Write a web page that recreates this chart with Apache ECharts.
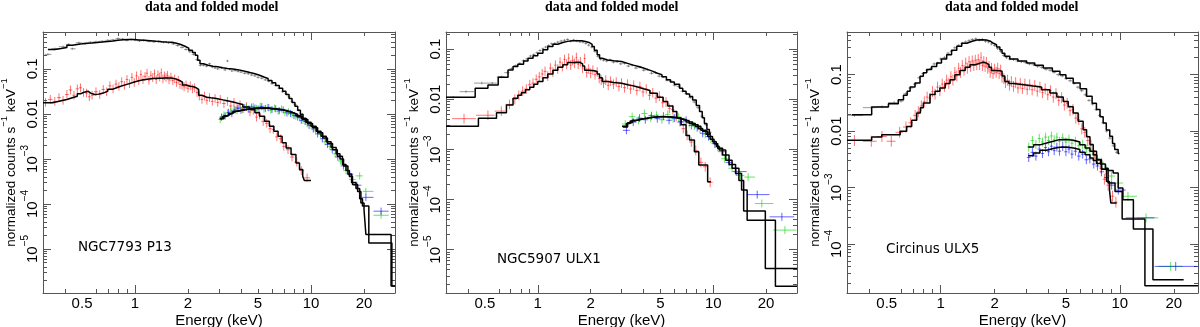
<!DOCTYPE html>
<html>
<head>
<meta charset="utf-8">
<script src="https://cdn.jsdelivr.net/npm/echarts@6/dist/echarts.min.js"></script>
<style>
  html, body { margin: 0; padding: 0; background: #fff; }
  #chart { width: 1200px; height: 327px; }
</style>
</head>
<body>
<div id="chart"></div>
<script>
// XSPEC-style "data and folded model" panels, three sources side by side.
// Every array is [energy keV, normalized counts s^-1 keV^-1].

// ---- NGC7793 P13 ----
const p13PnData = [[0.32,0.21],[0.35,0.28],[0.39,0.31],[0.42,0.35],[0.44,0.28],[0.48,0.38],[0.52,0.36],[0.56,0.39],[0.6,0.40],[0.65,0.41],[0.7,0.43],[0.75,0.44],[0.8,0.47],[0.85,0.46],[0.9,0.43],[0.95,0.45],[1.0,0.44],[1.06,0.42],[1.12,0.43],[1.2,0.41],[1.28,0.40],[1.36,0.41],[1.45,0.39],[1.55,0.38],[1.65,0.36],[1.75,0.33],[1.85,0.30],[1.95,0.27],[2.05,0.24],[2.15,0.21],[2.25,0.16],[2.35,0.12],[2.45,0.12],[2.55,0.115],[2.65,0.13],[2.75,0.11],[2.85,0.105],[2.95,0.10],[3.1,0.105],[3.25,0.095],[3.35,0.15],[3.45,0.098],[3.55,0.09],[3.7,0.092],[3.85,0.088],[4.0,0.085],[4.2,0.080],[4.4,0.078],[4.6,0.073],[4.8,0.07],[5.0,0.065],[5.25,0.062],[5.5,0.057],[5.75,0.053],[6.0,0.047],[6.3,0.043],[6.6,0.037],[6.9,0.031],[7.2,0.028],[7.5,0.024],[7.8,0.019],[8.1,0.016],[8.5,0.012],[8.9,0.0095],[9.3,0.0078]];
const p13MosData = [[0.31,0.018],[0.33,0.021],[0.35,0.019],[0.37,0.023],[0.39,0.020],[0.41,0.027],[0.43,0.034],[0.45,0.026],[0.47,0.036],[0.49,0.038],[0.51,0.030],[0.53,0.029],[0.55,0.024],[0.57,0.026],[0.6,0.031],[0.63,0.027],[0.66,0.035],[0.69,0.031],[0.72,0.042],[0.75,0.036],[0.78,0.046],[0.81,0.041],[0.84,0.052],[0.87,0.043],[0.9,0.058],[0.93,0.047],[0.96,0.065],[0.99,0.05],[1.02,0.07],[1.05,0.055],[1.08,0.075],[1.11,0.058],[1.14,0.068],[1.17,0.08],[1.2,0.056],[1.23,0.072],[1.26,0.064],[1.29,0.078],[1.32,0.058],[1.35,0.074],[1.38,0.066],[1.41,0.082],[1.44,0.06],[1.47,0.07],[1.5,0.065],[1.53,0.072],[1.56,0.057],[1.6,0.066],[1.64,0.055],[1.68,0.06],[1.72,0.05],[1.76,0.056],[1.8,0.045],[1.85,0.043],[1.9,0.04],[1.95,0.044],[2.0,0.037],[2.06,0.042],[2.12,0.036],[2.18,0.038],[2.25,0.03],[2.32,0.025],[2.4,0.021],[2.48,0.025],[2.56,0.02],[2.65,0.023],[2.75,0.019],[2.85,0.022],[2.95,0.018],[3.05,0.021],[3.2,0.017],[3.35,0.019],[3.5,0.015],[3.65,0.018],[3.8,0.014],[3.95,0.016],[4.1,0.013],[4.3,0.0145],[4.5,0.011],[4.7,0.012],[4.9,0.0085],[5.1,0.0095],[5.35,0.0068],[5.6,0.0062],[5.85,0.0047],[6.1,0.0045],[6.4,0.0031],[6.7,0.0028],[7.0,0.0019],[7.4,0.0016],[7.8,0.0011],[8.3,0.00085],[8.8,0.00055],[9.5,0.00038]];
const p13FpmaData = [[3.05,0.0075],[3.2,0.0095],[3.35,0.0105],[3.5,0.0115],[3.65,0.0128],[3.8,0.0118],[3.95,0.0138],[4.1,0.0125],[4.3,0.0142],[4.5,0.013],[4.7,0.0145],[4.9,0.0132],[5.15,0.0148],[5.4,0.0128],[5.65,0.014],[5.9,0.0122],[6.2,0.0135],[6.5,0.0115],[6.8,0.0128],[7.1,0.0108],[7.45,0.0112],[7.8,0.0098],[8.2,0.0088],[8.6,0.0082],[9.0,0.0072],[9.5,0.006],[10.0,0.0056],[10.6,0.0042],[11.3,0.0035],[12.0,0.0024],[12.8,0.0019],[13.7,0.0013],[14.7,0.0009],[15.8,0.00055],[17.0,0.00035],[18.9,0.00042],[20.5,0.00019],[25,0.000056]];
const p13FpmbData = [[3.1,0.0085],[3.25,0.009],[3.4,0.0108],[3.55,0.0102],[3.7,0.0122],[3.85,0.0132],[4.0,0.012],[4.2,0.0138],[4.4,0.0128],[4.6,0.0142],[4.8,0.0135],[5.0,0.0128],[5.25,0.0145],[5.5,0.0132],[5.75,0.0138],[6.0,0.0125],[6.3,0.013],[6.6,0.0118],[6.95,0.0122],[7.3,0.0105],[7.65,0.0102],[8.0,0.0092],[8.4,0.0085],[8.8,0.0072],[9.25,0.0068],[9.75,0.0055],[10.3,0.0046],[10.9,0.0036],[11.6,0.0028],[12.4,0.0021],[13.2,0.0016],[14.2,0.0011],[15.3,0.0007],[16.6,0.00046],[18.2,0.00026],[20.5,0.00014],[25,0.000069]];
// folded models: histogram bins, last entry is the upper edge of the last bin
const p13PnModel = [[0.32,0.27],[0.35,0.285],[0.38,0.30],[0.41,0.336],[0.44,0.35],[0.47,0.36],[0.5,0.37],[0.53,0.378],[0.57,0.386],[0.61,0.394],[0.65,0.405],[0.7,0.418],[0.75,0.432],[0.8,0.443],[0.86,0.449],[0.92,0.447],[0.98,0.44],[1.05,0.432],[1.13,0.423],[1.22,0.412],[1.32,0.403],[1.42,0.396],[1.52,0.39],[1.62,0.372],[1.72,0.348],[1.82,0.318],[1.92,0.29],[2.02,0.258],[2.12,0.232],[2.2,0.2],[2.27,0.155],[2.34,0.13],[2.45,0.12],[2.6,0.115],[2.77,0.111],[2.95,0.106],[3.15,0.102],[3.35,0.099],[3.6,0.095],[3.9,0.089],[4.2,0.083],[4.5,0.078],[4.8,0.072],[5.1,0.066],[5.4,0.061],[5.7,0.055],[6.0,0.049],[6.3,0.043],[6.6,0.037],[6.9,0.032],[7.2,0.027],[7.5,0.022],[7.8,0.018],[8.1,0.0148],[8.4,0.0121],[8.7,0.0098],[9.0,0.0079],[9.3,0.0066],[9.6,0.0058]];
const p13MosModel = [[0.3,0.0176],[0.34,0.019],[0.37,0.0208],[0.41,0.0228],[0.44,0.0247],[0.47,0.028],[0.49,0.0308],[0.52,0.0319],[0.54,0.029],[0.56,0.0269],[0.59,0.0275],[0.62,0.029],[0.66,0.032],[0.7,0.0355],[0.75,0.039],[0.8,0.043],[0.86,0.047],[0.93,0.052],[1.0,0.056],[1.08,0.059],[1.17,0.061],[1.27,0.062],[1.38,0.063],[1.5,0.063],[1.6,0.06],[1.7,0.056],[1.78,0.051],[1.86,0.044],[1.95,0.041],[2.05,0.04],[2.15,0.038],[2.23,0.035],[2.3,0.026],[2.4,0.0235],[2.55,0.0228],[2.7,0.0221],[2.9,0.0205],[3.16,0.0191],[3.45,0.0176],[3.76,0.0161],[4.1,0.0143],[4.48,0.0125],[4.8,0.0106],[5.1,0.0089],[5.45,0.0069],[5.8,0.0053],[6.15,0.0041],[6.5,0.0032],[6.85,0.0023],[7.22,0.00175],[7.7,0.00125],[8.21,0.00081],[8.6,0.00058],[8.97,0.00041],[9.16,0.00033],[10.0,0.00033]];
const p13FpmaModel = [[3.03,0.0079],[3.15,0.0088],[3.3,0.0097],[3.45,0.0106],[3.6,0.0115],[3.8,0.0122],[4.1,0.0129],[4.45,0.0134],[4.88,0.0136],[5.3,0.0134],[5.81,0.0129],[6.3,0.0123],[6.91,0.0115],[7.4,0.0107],[7.87,0.0097],[8.4,0.0087],[8.97,0.0075],[9.6,0.0061],[10.2,0.0049],[10.9,0.0038],[11.66,0.0029],[12.4,0.0022],[13.25,0.0016],[14.1,0.00115],[15.08,0.00075],[15.8,0.00055],[16.5,0.00041],[17.2,0.00027],[18.4,0.00019],[19.2,0.000105],[20.0,0.000075],[20.5,0.000021],[28.5,0.0000015],[30,0.0000015]];
const p13FpmbModel = [[3.03,0.0078],[3.2,0.0091],[3.4,0.0102],[3.6,0.0114],[3.85,0.0123],[4.2,0.013],[4.6,0.0135],[5.0,0.0136],[5.5,0.0132],[6.0,0.0127],[6.6,0.0119],[7.2,0.011],[7.7,0.0101],[8.2,0.0091],[8.8,0.0079],[9.4,0.0065],[10.0,0.0053],[10.7,0.0041],[11.4,0.0032],[12.2,0.0024],[13.0,0.0018],[13.9,0.0013],[14.6,0.001],[15.3,0.0007],[16.2,0.00046],[17.0,0.0003],[18.0,0.00022],[18.9,0.00013],[19.6,0.00009],[21.3,0.0000136],[28.8,0.0000015],[30,0.0000015]];

// ---- NGC5907 ULX1 ----
const ulx1PnData = [[0.33,0.011],[0.39,0.0142],[0.48,0.021],[0.55,0.021],[0.62,0.028],[0.67,0.034],[0.71,0.041],[0.75,0.047],[0.79,0.052],[0.83,0.059],[0.87,0.064],[0.91,0.073],[0.95,0.078],[0.99,0.085],[1.03,0.094],[1.07,0.102],[1.11,0.11],[1.15,0.118],[1.2,0.128],[1.25,0.13],[1.3,0.138],[1.36,0.145],[1.42,0.15],[1.48,0.156],[1.54,0.145],[1.6,0.152],[1.67,0.146],[1.74,0.14],[1.81,0.138],[1.88,0.13],[1.95,0.12],[2.03,0.11],[2.12,0.09],[2.2,0.072],[2.28,0.063],[2.37,0.06],[2.47,0.058],[2.58,0.061],[2.7,0.055],[2.83,0.056],[2.97,0.051],[3.12,0.052],[3.28,0.046],[3.45,0.048],[3.63,0.042],[3.82,0.044],[4.02,0.038],[4.23,0.039],[4.45,0.033],[4.68,0.034],[4.92,0.029],[5.18,0.028],[5.45,0.024],[5.73,0.023],[6.03,0.019],[6.35,0.018],[6.68,0.0145],[7.03,0.013],[7.4,0.0108],[7.8,0.0088],[8.2,0.0068],[8.65,0.0046],[9.1,0.0031],[9.55,0.0022]];
const ulx1MosData = [[0.38,0.0041],[0.52,0.0048],[0.62,0.0058],[0.69,0.0079],[0.74,0.01],[0.78,0.012],[0.82,0.0145],[0.86,0.016],[0.9,0.0195],[0.94,0.021],[0.98,0.025],[1.02,0.028],[1.06,0.032],[1.1,0.036],[1.14,0.029],[1.18,0.042],[1.22,0.035],[1.26,0.048],[1.3,0.04],[1.34,0.055],[1.38,0.045],[1.42,0.062],[1.46,0.05],[1.5,0.066],[1.54,0.048],[1.58,0.06],[1.62,0.052],[1.66,0.068],[1.7,0.05],[1.75,0.056],[1.8,0.042],[1.85,0.065],[1.9,0.034],[1.95,0.04],[2.0,0.033],[2.06,0.038],[2.12,0.031],[2.18,0.035],[2.24,0.026],[2.3,0.024],[2.37,0.021],[2.44,0.024],[2.52,0.019],[2.6,0.023],[2.7,0.02],[2.8,0.022],[2.9,0.018],[3.0,0.021],[3.12,0.017],[3.25,0.02],[3.38,0.016],[3.52,0.019],[3.67,0.015],[3.82,0.018],[3.98,0.014],[4.15,0.016],[4.33,0.012],[4.52,0.0135],[4.72,0.0105],[4.93,0.0115],[5.15,0.0085],[5.38,0.0088],[5.62,0.0066],[5.88,0.0062],[6.15,0.0045],[6.45,0.0036],[6.75,0.0026],[7.1,0.0019],[7.5,0.0014],[7.95,0.00095],[8.5,0.00055],[9.0,0.00045],[9.6,0.00022]];
const ulx1FpmaData = [[3.15,0.0032],[3.45,0.0045],[3.75,0.0038],[4.05,0.0052],[4.4,0.0042],[4.75,0.0048],[5.1,0.0039],[5.5,0.005],[5.9,0.0041],[6.35,0.0044],[6.8,0.0036],[7.3,0.0033],[7.8,0.0029],[8.4,0.0025],[9.0,0.002],[9.7,0.0016],[10.6,0.0011],[11.6,0.00065],[12.8,0.00042],[14.3,0.0003],[15.8,0.00028],[18.9,0.000083],[25.6,0.0000245]];
const ulx1FpmbData = [[3.2,0.0024],[3.5,0.0035],[3.8,0.0042],[4.1,0.0039],[4.45,0.0047],[4.8,0.0041],[5.2,0.0046],[5.6,0.0038],[6.0,0.0042],[6.5,0.0035],[7.0,0.0038],[7.5,0.003],[8.1,0.0027],[8.7,0.0021],[9.4,0.0018],[10.2,0.0013],[11.2,0.0009],[12.3,0.00055],[13.5,0.00036],[17.8,0.000125],[24.6,0.000045]];
const ulx1PnModel = [[0.3,0.011],[0.44,0.0166],[0.52,0.0193],[0.595,0.0275],[0.677,0.0385],[0.723,0.045],[0.77,0.05],[0.83,0.058],[0.88,0.066],[0.94,0.074],[1.0,0.083],[1.07,0.097],[1.14,0.113],[1.22,0.125],[1.3,0.136],[1.39,0.143],[1.48,0.147],[1.58,0.148],[1.68,0.147],[1.78,0.142],[1.87,0.136],[1.96,0.125],[2.04,0.113],[2.1,0.095],[2.18,0.077],[2.25,0.066],[2.33,0.061],[2.5,0.059],[2.71,0.0567],[3.0,0.052],[3.25,0.048],[3.5,0.045],[3.75,0.042],[4.0,0.039],[4.25,0.036],[4.54,0.0331],[4.8,0.031],[5.1,0.028],[5.41,0.0244],[5.7,0.022],[6.0,0.02],[6.43,0.0166],[6.7,0.0145],[7.0,0.0128],[7.33,0.0113],[7.63,0.0097],[8.0,0.0075],[8.35,0.0057],[8.65,0.0043],[8.9,0.0033],[9.2,0.0025],[9.5,0.0021],[9.7,0.0021]];
const ulx1MosModel = [[0.3,0.0029],[0.459,0.0042],[0.582,0.0054],[0.663,0.0077],[0.723,0.0105],[0.77,0.012],[0.806,0.0135],[0.85,0.0155],[0.9,0.0174],[0.95,0.02],[1.0,0.0226],[1.07,0.027],[1.14,0.032],[1.22,0.038],[1.3,0.0436],[1.39,0.049],[1.48,0.054],[1.58,0.055],[1.68,0.054],[1.75,0.051],[1.8,0.046],[1.85,0.038],[1.95,0.037],[2.09,0.0357],[2.18,0.032],[2.25,0.027],[2.33,0.0226],[2.5,0.0215],[2.71,0.0209],[3.0,0.0195],[3.25,0.0185],[3.5,0.0174],[3.75,0.0162],[4.0,0.015],[4.36,0.0132],[4.8,0.011],[5.18,0.009],[5.5,0.0073],[5.89,0.0057],[6.2,0.0043],[6.56,0.0031],[7.0,0.0019],[7.32,0.00153],[7.81,0.0009],[8.27,0.00049],[9.29,0.000225],[9.69,0.000225]];
const ulx1FpmaModel = [[3.02,0.0029],[3.2,0.0033],[3.36,0.0037],[3.6,0.004],[3.83,0.0042],[4.2,0.0044],[4.54,0.0045],[5.0,0.0045],[5.41,0.0044],[5.9,0.0042],[6.43,0.0039],[7.0,0.0035],[7.63,0.0031],[8.2,0.0026],[8.7,0.0023],[9.3,0.0018],[9.9,0.00142],[10.4,0.00115],[10.8,0.00097],[11.78,0.00061],[12.8,0.00042],[14.0,0.00024],[14.9,0.000059],[19.8,0.0000042],[30,0.0000042]];
const ulx1FpmbModel = [[3.05,0.0028],[3.25,0.0034],[3.45,0.0038],[3.7,0.0041],[4.0,0.0043],[4.4,0.0045],[4.8,0.0045],[5.2,0.0045],[5.7,0.0043],[6.2,0.004],[6.7,0.0037],[7.3,0.0033],[7.9,0.0029],[8.5,0.0024],[9.1,0.002],[9.6,0.0016],[10.1,0.0013],[10.6,0.00105],[11.3,0.00077],[12.3,0.0005],[13.4,0.00033],[14.5,0.000155],[15.6,0.0000386],[22.6,0.00000185],[30,0.00000185]];

// ---- Circinus ULX5 ----
const ulx5PnData = [[0.33,0.019],[0.41,0.026],[0.47,0.027],[0.55,0.032],[0.6,0.034],[0.64,0.046],[0.68,0.058],[0.72,0.068],[0.76,0.088],[0.8,0.105],[0.84,0.12],[0.88,0.128],[0.92,0.155],[0.96,0.16],[1.0,0.19],[1.05,0.2],[1.1,0.24],[1.15,0.26],[1.2,0.3],[1.26,0.33],[1.32,0.36],[1.38,0.38],[1.44,0.4],[1.5,0.42],[1.57,0.43],[1.64,0.41],[1.71,0.42],[1.78,0.39],[1.85,0.38],[1.92,0.35],[2.0,0.33],[2.08,0.29],[2.16,0.26],[2.24,0.22],[2.33,0.2],[2.43,0.19],[2.55,0.185],[2.68,0.175],[2.82,0.17],[2.97,0.165],[3.13,0.155],[3.3,0.15],[3.48,0.14],[3.67,0.135],[3.87,0.125],[4.08,0.12],[4.3,0.11],[4.53,0.1],[4.77,0.095],[5.02,0.085],[5.28,0.078],[5.55,0.07],[5.83,0.06],[6.12,0.052],[6.42,0.044],[6.73,0.035],[7.05,0.03],[7.38,0.024],[7.72,0.019],[8.07,0.014],[8.44,0.01],[8.8,0.0075],[9.2,0.0055],[9.6,0.0042]];
const ulx5MosData = [[0.33,0.0068],[0.41,0.0066],[0.47,0.008],[0.53,0.0066],[0.59,0.0095],[0.64,0.0118],[0.68,0.014],[0.72,0.019],[0.75,0.022],[0.78,0.028],[0.81,0.033],[0.84,0.04],[0.87,0.038],[0.9,0.05],[0.93,0.045],[0.96,0.06],[0.99,0.052],[1.02,0.068],[1.05,0.062],[1.08,0.08],[1.11,0.07],[1.14,0.092],[1.17,0.08],[1.2,0.11],[1.23,0.095],[1.26,0.13],[1.29,0.11],[1.32,0.145],[1.35,0.12],[1.38,0.16],[1.41,0.13],[1.44,0.17],[1.47,0.14],[1.5,0.175],[1.53,0.145],[1.56,0.18],[1.59,0.15],[1.62,0.185],[1.65,0.15],[1.68,0.2],[1.71,0.145],[1.74,0.17],[1.77,0.14],[1.8,0.165],[1.83,0.13],[1.86,0.14],[1.89,0.11],[1.92,0.13],[1.96,0.105],[2.0,0.125],[2.04,0.11],[2.08,0.13],[2.12,0.105],[2.16,0.12],[2.2,0.09],[2.25,0.085],[2.3,0.072],[2.36,0.08],[2.42,0.065],[2.48,0.075],[2.55,0.062],[2.62,0.072],[2.7,0.058],[2.78,0.07],[2.86,0.057],[2.95,0.068],[3.04,0.055],[3.14,0.066],[3.24,0.054],[3.35,0.064],[3.46,0.051],[3.58,0.06],[3.7,0.048],[3.83,0.056],[3.96,0.044],[4.1,0.052],[4.25,0.04],[4.4,0.046],[4.56,0.035],[4.73,0.039],[4.9,0.029],[5.08,0.031],[5.27,0.023],[5.47,0.024],[5.68,0.017],[5.9,0.016],[6.13,0.011],[6.37,0.0095],[6.62,0.0068],[6.9,0.0056],[7.2,0.0037],[7.5,0.003],[7.85,0.0022],[8.2,0.0014],[8.6,0.0011],[9.1,0.0007],[9.5,0.00055]];
const ulx5FpmaData = [[3.1,0.0052],[3.25,0.0068],[3.4,0.0058],[3.55,0.0074],[3.7,0.0064],[3.85,0.0078],[4.0,0.0068],[4.15,0.0082],[4.3,0.007],[4.45,0.0078],[4.6,0.0066],[4.8,0.0076],[5.0,0.0064],[5.2,0.0072],[5.4,0.0061],[5.65,0.0066],[5.9,0.0055],[6.2,0.0058],[6.5,0.0048],[6.8,0.0046],[7.15,0.0038],[7.5,0.0032],[7.9,0.0028],[8.4,0.0021],[9.0,0.0016],[9.8,0.0012],[11.1,0.0007],[14.0,0.00029],[19.2,0.00004]];
const ulx5FpmbData = [[3.1,0.0034],[3.25,0.0042],[3.4,0.0036],[3.55,0.0048],[3.7,0.004],[3.85,0.0051],[4.0,0.0043],[4.15,0.0054],[4.3,0.0045],[4.45,0.0052],[4.6,0.0044],[4.8,0.0053],[5.0,0.0043],[5.2,0.0048],[5.4,0.0039],[5.65,0.0044],[5.9,0.0036],[6.2,0.0039],[6.5,0.0031],[6.8,0.0032],[7.15,0.0026],[7.5,0.0024],[7.9,0.0019],[8.4,0.0015],[9.0,0.0011],[9.8,0.0009],[11.9,0.00029],[20.5,0.00004]];
const ulx5PnModel = [[0.319,0.0195],[0.412,0.0267],[0.511,0.0306],[0.58,0.036],[0.62,0.043],[0.65,0.0507],[0.675,0.0604],[0.719,0.0711],[0.767,0.0934],[0.8,0.108],[0.836,0.123],[0.89,0.14],[0.95,0.161],[1.01,0.19],[1.08,0.226],[1.15,0.27],[1.23,0.318],[1.31,0.36],[1.4,0.39],[1.5,0.41],[1.59,0.417],[1.7,0.41],[1.8,0.39],[1.9,0.36],[1.97,0.34],[2.05,0.31],[2.14,0.277],[2.2,0.24],[2.28,0.211],[2.43,0.19],[2.7,0.175],[3.02,0.161],[3.35,0.147],[3.74,0.131],[4.2,0.115],[4.63,0.1],[5.0,0.086],[5.49,0.071],[6.0,0.056],[6.52,0.0413],[7.0,0.031],[7.4,0.024],[7.75,0.018],[8.07,0.0139],[8.4,0.0105],[8.78,0.0081],[9.1,0.006],[9.36,0.0047],[9.78,0.004],[9.95,0.004]];
const ulx5MosModel = [[0.3,0.00686],[0.412,0.00785],[0.469,0.00865],[0.594,0.0099],[0.646,0.0121],[0.689,0.0155],[0.735,0.0209],[0.77,0.026],[0.8,0.0315],[0.872,0.0443],[0.93,0.051],[0.99,0.058],[1.06,0.07],[1.127,0.0815],[1.2,0.1],[1.28,0.119],[1.37,0.135],[1.457,0.15],[1.56,0.16],[1.66,0.166],[1.73,0.16],[1.8,0.15],[1.86,0.135],[1.92,0.119],[2.03,0.117],[2.14,0.115],[2.2,0.095],[2.28,0.076],[2.4,0.07],[2.54,0.0665],[2.9,0.063],[3.28,0.0604],[3.65,0.054],[4.07,0.0473],[4.45,0.04],[4.83,0.0336],[5.15,0.027],[5.49,0.0209],[5.85,0.015],[6.24,0.0106],[6.52,0.0079],[6.81,0.0058],[7.1,0.0044],[7.41,0.0031],[7.9,0.0021],[8.43,0.00128],[8.75,0.00091],[8.91,0.00053],[9.6,0.00053]];
const ulx5FpmaModel = [[3.08,0.00522],[3.3,0.0057],[3.58,0.00615],[3.9,0.0066],[4.25,0.00705],[4.6,0.0071],[5.04,0.0069],[5.5,0.0064],[5.98,0.00575],[6.4,0.005],[6.81,0.00438],[7.1,0.0038],[7.41,0.00312],[7.8,0.0026],[8.3,0.0022],[8.6,0.002],[9.18,0.00181],[9.79,0.00098],[10.4,0.000608],[11.9,0.000184],[15.3,0.0000233],[22.7,0.0000233]];
const ulx5FpmbModel = [[3.08,0.00367],[3.3,0.0041],[3.58,0.00456],[3.9,0.0049],[4.25,0.00515],[4.6,0.0052],[5.04,0.005],[5.5,0.0047],[5.98,0.0042],[6.4,0.0038],[6.81,0.00334],[7.1,0.003],[7.41,0.00265],[7.9,0.0021],[8.6,0.0012],[9.4,0.00085],[10.3,0.000277],[13.8,0.0000182],[27.3,0.0000182]];

const energyTickLabels = [0.5, 1, 2, 5, 10, 20];
const energyMinorTicks = [0.3, 0.4, 0.6, 0.7, 0.8, 0.9, 2, 3, 4, 5, 6, 7, 8, 9, 20, 30];
const panelTitle = "data and folded model";
const sourceNames = ["NGC7793 P13", "NGC5907 ULX1", "Circinus ULX5"];

// relative y error drawn on each instrument's crosses
const ERR = { pn: 0.06, mos: 0.25, fpma: 0.2, fpmb: 0.2 };
const COLORS = {
  pn: "rgba(70,70,70,0.55)",
  mos: "rgba(255,0,0,0.55)",
  fpma: "rgba(0,210,0,0.6)",
  fpmb: "rgba(0,0,255,0.6)",
};

const panels = [
  { left: 43, width: 352, xMax: 30, yMin: 1.05e-6, yMax: 0.66, titleX: 145, tagX: 78, tagY: 240,
    data: { pn: p13PnData, mos: p13MosData, fpma: p13FpmaData, fpmb: p13FpmbData },
    models: [p13PnModel, p13MosModel, p13FpmaModel, p13FpmbModel] },
  { left: 446, width: 351, xMax: 30, yMin: 1.36e-6, yMax: 0.22, titleX: 545, tagX: 497, tagY: 252,
    data: { pn: ulx1PnData, mos: ulx1MosData, fpma: ulx1FpmaData, fpmb: ulx1FpmbData },
    models: [ulx1PnModel, ulx1MosModel, ulx1FpmaModel, ulx1FpmbModel] },
  { left: 847, width: 351, xMax: 27.3, yMin: 1.35e-5, yMax: 0.57, titleX: 945, tagX: 886, tagY: 242,
    data: { pn: ulx5PnData, mos: ulx5MosData, fpma: ulx5FpmaData, fpmb: ulx5FpmbData },
    models: [ulx5PnModel, ulx5MosModel, ulx5FpmaModel, ulx5FpmbModel] },
];

const GRID_TOP = 32;
const GRID_H = 261;
const FRAME = "#555";
const FONT = "Liberation Sans";
const TICK_FS = 15;
const lg = Math.log10;

// cross = [logE, logV, logE_lo, logE_hi, logV_lo, logV_hi]; x extent from neighbouring bins
function crossData(points, err) {
  const lx = points.map((p) => lg(p[0]));
  const d = lg(1 + err);
  return points.map((p, k) => {
    const x = lx[k];
    const lo = k > 0 ? (lx[k - 1] + x) / 2 : x - (lx[k + 1] - x) / 2;
    const hi = k < lx.length - 1 ? (lx[k + 1] + x) / 2 : x + (x - lx[k - 1]) / 2;
    const y = lg(p[1]);
    return [x, y, lo, hi, y - d, y + d];
  });
}

function crossRenderer(color) {
  return function (params, api) {
    const c = api.coord([api.value(0), api.value(1)]);
    const l = api.coord([api.value(2), api.value(1)]);
    const r = api.coord([api.value(3), api.value(1)]);
    const b = api.coord([api.value(0), api.value(4)]);
    const t = api.coord([api.value(0), api.value(5)]);
    const style = { stroke: color, lineWidth: 1 };
    return {
      type: "group",
      children: [
        { type: "line", shape: { x1: l[0], y1: c[1], x2: r[0], y2: c[1] }, style },
        { type: "line", shape: { x1: c[0], y1: t[1], x2: c[0], y2: b[1] }, style },
      ],
    };
  };
}

function xLabel(v) {
  const e = Math.pow(10, v);
  return e < 1 ? String(+e.toFixed(1)) : String(Math.round(e));
}
function yLabel(v) {
  const k = Math.round(v);
  if (k === -1) return "0.1";
  if (k === -2) return "0.01";
  return "{b|10}{s|\u2212" + -k + "}";
}

const grids = [], xAxes = [], yAxes = [], series = [], titles = [];

panels.forEach((p, i) => {
  const x0 = lg(0.3), x1 = lg(p.xMax);
  const y0 = lg(p.yMin), y1 = lg(p.yMax);
  const inX = (v) => v >= x0 - 1e-9 && v <= x1 + 1e-9;
  const inY = (v) => v >= y0 && v <= y1;
  const xMajor = [0, 1];
  const xMinor = energyMinorTicks.map(lg).filter(inX);
  const xLab = energyTickLabels.map(lg).filter(inX);
  const yMajor = [], yMinor = [];
  for (let k = Math.floor(y0); k <= Math.ceil(y1); k++) {
    if (inY(k)) yMajor.push(k);
    for (let m = 2; m <= 9; m++) if (inY(k + lg(m))) yMinor.push(k + lg(m));
  }

  // outerBoundsMode none: keep the boxes where they are even if a label sticks out
  const box = { left: p.left, top: GRID_TOP, width: p.width, height: GRID_H, outerBoundsMode: "none", containLabel: false };
  grids.push(box, Object.assign({}, box));
  const gMaj = 2 * i, gMin = 2 * i + 1;

  const tickStyle = { color: FRAME, width: 1 };
  const lineOn = { show: true, onZero: false, lineStyle: { color: FRAME, width: 1 } };
  const lineOff = { show: false, onZero: false };
  const baseX = { type: "value", min: x0, max: x1, splitLine: { show: false } };
  const baseY = { type: "value", min: y0, max: y1, splitLine: { show: false } };

  xAxes.push(
    Object.assign({}, baseX, {
      gridIndex: gMaj, position: "bottom", axisLine: lineOn,
      axisTick: { show: true, inside: true, length: 8, customValues: xMajor, lineStyle: tickStyle },
      axisLabel: { customValues: xLab, formatter: xLabel, margin: 3, color: "#000", fontSize: TICK_FS, fontFamily: FONT },
      name: "Energy (keV)", nameLocation: "middle", nameGap: 20, nameMoveOverlap: false,
      nameTextStyle: { color: "#000", fontSize: TICK_FS, fontFamily: FONT },
    }),
    Object.assign({}, baseX, {
      gridIndex: gMaj, position: "top", axisLine: lineOn,
      axisTick: { show: true, inside: true, length: 8, customValues: xMajor, lineStyle: tickStyle },
      axisLabel: { show: false },
    }),
    Object.assign({}, baseX, {
      gridIndex: gMin, position: "bottom", axisLine: lineOff,
      axisTick: { show: true, inside: true, length: 4, customValues: xMinor, lineStyle: tickStyle },
      axisLabel: { show: false },
    }),
    Object.assign({}, baseX, {
      gridIndex: gMin, position: "top", axisLine: lineOff,
      axisTick: { show: true, inside: true, length: 4, customValues: xMinor, lineStyle: tickStyle },
      axisLabel: { show: false },
    })
  );

  yAxes.push(
    Object.assign({}, baseY, {
      gridIndex: gMaj, position: "left", axisLine: lineOn,
      axisTick: { show: true, inside: true, length: 8, customValues: yMajor, lineStyle: tickStyle },
      axisLabel: {
        customValues: yMajor, formatter: yLabel, rotate: 90, margin: 3, color: "#000",
        fontSize: 15, fontFamily: FONT,
        rich: {
          b: { fontSize: 15, fontFamily: FONT, color: "#000", lineHeight: 20, verticalAlign: "bottom" },
          s: { fontSize: 10, fontFamily: FONT, color: "#000", lineHeight: 20, verticalAlign: "top" },
        },
      },
      name: "{n|normalized counts s}{s|\u22121}{n| keV}{s|\u22121}",
      nameLocation: "middle", nameRotate: 90, nameGap: 25,
      nameTextStyle: {
        rich: {
          n: { fontSize: 13.5, fontFamily: FONT, color: "#000", lineHeight: 19, verticalAlign: "bottom" },
          s: { fontSize: 9.5, fontFamily: FONT, color: "#000", lineHeight: 19, verticalAlign: "top" },
        },
      },
    }),
    Object.assign({}, baseY, {
      gridIndex: gMaj, position: "right", axisLine: lineOn,
      axisTick: { show: true, inside: true, length: 8, customValues: yMajor, lineStyle: tickStyle },
      axisLabel: { show: false },
    }),
    Object.assign({}, baseY, {
      gridIndex: gMin, position: "left", axisLine: lineOff,
      axisTick: { show: true, inside: true, length: 4, customValues: yMinor, lineStyle: tickStyle },
      axisLabel: { show: false },
    }),
    Object.assign({}, baseY, {
      gridIndex: gMin, position: "right", axisLine: lineOff,
      axisTick: { show: true, inside: true, length: 4, customValues: yMinor, lineStyle: tickStyle },
      axisLabel: { show: false },
    })
  );

  const xi = 4 * i, yi = 4 * i;
  ["pn", "mos", "fpma", "fpmb"].forEach((key) => {
    series.push({
      type: "custom",
      xAxisIndex: xi, yAxisIndex: yi,
      clip: true, silent: true, z: 2,
      renderItem: crossRenderer(COLORS[key]),
      encode: { x: 0, y: 1 },
      data: crossData(p.data[key], ERR[key]),
    });
  });
  p.models.forEach((m) => {
    series.push({
      type: "line",
      xAxisIndex: xi, yAxisIndex: yi,
      step: "end", showSymbol: false, clip: true, silent: true, z: 3,
      lineStyle: { color: "#000", width: 1.5 },
      data: m.map((q) => [lg(q[0]), lg(q[1])]),
    });
  });

  titles.push(
    { text: panelTitle, left: p.titleX, top: 0,
      textStyle: { fontFamily: "Liberation Serif", fontWeight: "bold", fontSize: 14, color: "#000" } },
    { text: sourceNames[i], left: p.tagX, top: p.tagY,
      textStyle: { fontFamily: "DejaVu Sans", fontWeight: "normal", fontSize: 13.5, color: "#000" } }
  );
});

const chart = echarts.init(document.getElementById("chart"), null, { renderer: "canvas" });
chart.setOption({
  animation: false,
  backgroundColor: "#fff",
  title: titles.map((t) => Object.assign({ padding: 0 }, t)),
  grid: grids,
  xAxis: xAxes,
  yAxis: yAxes,
  series: series,
});
</script>
</body>
</html>
